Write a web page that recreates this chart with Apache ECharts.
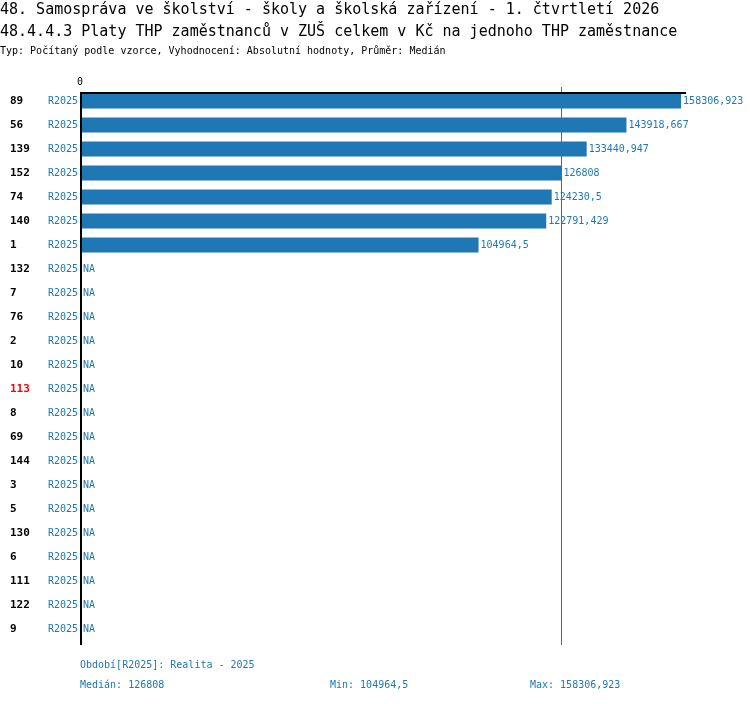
<!DOCTYPE html>
<html>
<head>
<meta charset="utf-8">
<script src="https://cdn.jsdelivr.net/npm/echarts@6/dist/echarts.min.js"></script>
<style>
    html, body { margin: 0; padding: 0; background: #fff; }
    #app { width: 750px; height: 704px; }
</style>
</head>
<body>
<div id="app"></div>
<script>
// data
let categories = ["89", "56", "139", "152", "74", "140", "1", "132", "7", "76", "2", "10",
    "113", "8", "69", "144", "3", "5", "130", "6", "111", "122", "9"];
let period = "R2025";
let values = [158306.923, 143918.667, 133440.947, 126808, 124230.5, 122791.429, 104964.5,
    null, null, null, null, null, null, null, null, null, null, null, null, null, null, null, null];
let highlighted = "113";

let mono = "DejaVu Sans Mono";
let blue = "#1f77b4";

// cisla s desetinnou carkou
let fmt = v => String(v).replace(".", ",");

let known = values.filter(v => v !== null).slice().sort((a, b) => a - b);
let median = known.length % 2
    ? known[(known.length - 1) / 2]
    : (known[known.length / 2 - 1] + known[known.length / 2]) / 2;
let minVal = known[0];
let maxVal = known[known.length - 1];

let barData = values.map(v => v === null
    ? {value: 0, label: {formatter: "NA", distance: 3}}
    : {value: v});

let myChart = echarts.init(document.querySelector("#app"));
myChart.setOption({
    backgroundColor: "#fff",
    animation: false,
    title: [
        {
            text: "48. Samospráva ve školství - školy a školská zařízení - 1. čtvrtletí 2026",
            left: 0, top: 3, padding: 0,
            textStyle: {fontFamily: mono, fontSize: 15, fontWeight: "normal", color: "#000"}
        },
        {
            text: "48.4.4.3 Platy THP zaměstnanců v ZUŠ celkem v Kč na jednoho THP zaměstnance",
            left: 0, top: 25, padding: 0,
            textStyle: {fontFamily: mono, fontSize: 15, fontWeight: "normal", color: "#000"}
        },
        {
            text: "Typ: Počítaný podle vzorce, Vyhodnocení: Absolutní hodnoty, Průměr: Medián",
            left: 0, top: 46, padding: 0,
            textStyle: {fontFamily: mono, fontSize: 10, fontWeight: "normal", color: "#000"}
        }
    ],
    grid: {left: 80, top: 89, right: 64, height: 552},
    xAxis: {
        type: "value",
        position: "top",
        min: 0,
        max: 159600,
        splitLine: {show: false},
        axisTick: {show: false},
        axisLine: {show: false},
        axisLabel: {
            fontFamily: mono, fontSize: 10, color: "#000", margin: 2,
            formatter: v => v === 0 ? "0" : ""
        }
    },
    yAxis: {
        type: "category",
        inverse: true,
        data: categories,
        axisTick: {show: false},
        axisLine: {show: false},
        axisLabel: {
            margin: 2,
            formatter: c => (c === highlighted ? "{red|" + c + "}" : "{num|" + c + "}") + "{per|" + period + "}",
            rich: {
                num: {fontFamily: mono, fontSize: 11, fontWeight: "bold", color: "#000", width: 38, align: "left"},
                red: {fontFamily: mono, fontSize: 11, fontWeight: "bold", color: "#ff0000", width: 38, align: "left"},
                per: {fontFamily: mono, fontSize: 10, color: blue}
            }
        }
    },
    series: [
        {
            name: period,
            type: "bar",
            barWidth: 15,
            data: barData,
            itemStyle: {color: blue},
            label: {
                show: true,
                position: "right",
                distance: 2,
                fontFamily: mono,
                fontSize: 10,
                color: blue,
                formatter: p => fmt(p.value)
            }
        }
    ]
});

// osy a median jako cary (median podle meritka osy)
let medX = Math.round(myChart.convertToPixel({xAxisIndex: 0}, median));
let endX = Math.round(myChart.convertToPixel({xAxisIndex: 0}, 159600));
myChart.setOption({
    graphic: [
        {type: "rect", shape: {x: medX, y: 87, width: 1, height: 558}, style: {fill: blue}, z: 10},
        {type: "rect", shape: {x: 80, y: 92, width: endX - 80, height: 2}, style: {fill: "#000"}, z: 11},
        {type: "rect", shape: {x: 80, y: 92, width: 2, height: 553}, style: {fill: "#000"}, z: 11},
        {type: "text", left: 80, top: 660, style: {text: "Období[R2025]: Realita - 2025", font: "10px " + mono, fill: blue}},
        {type: "text", left: 80, top: 680, style: {text: "Medián: " + fmt(median), font: "10px " + mono, fill: blue}},
        {type: "text", left: 330, top: 680, style: {text: "Min: " + fmt(minVal), font: "10px " + mono, fill: blue}},
        {type: "text", left: 530, top: 680, style: {text: "Max: " + fmt(maxVal), font: "10px " + mono, fill: blue}}
    ]
});
</script>
</body>
</html>
